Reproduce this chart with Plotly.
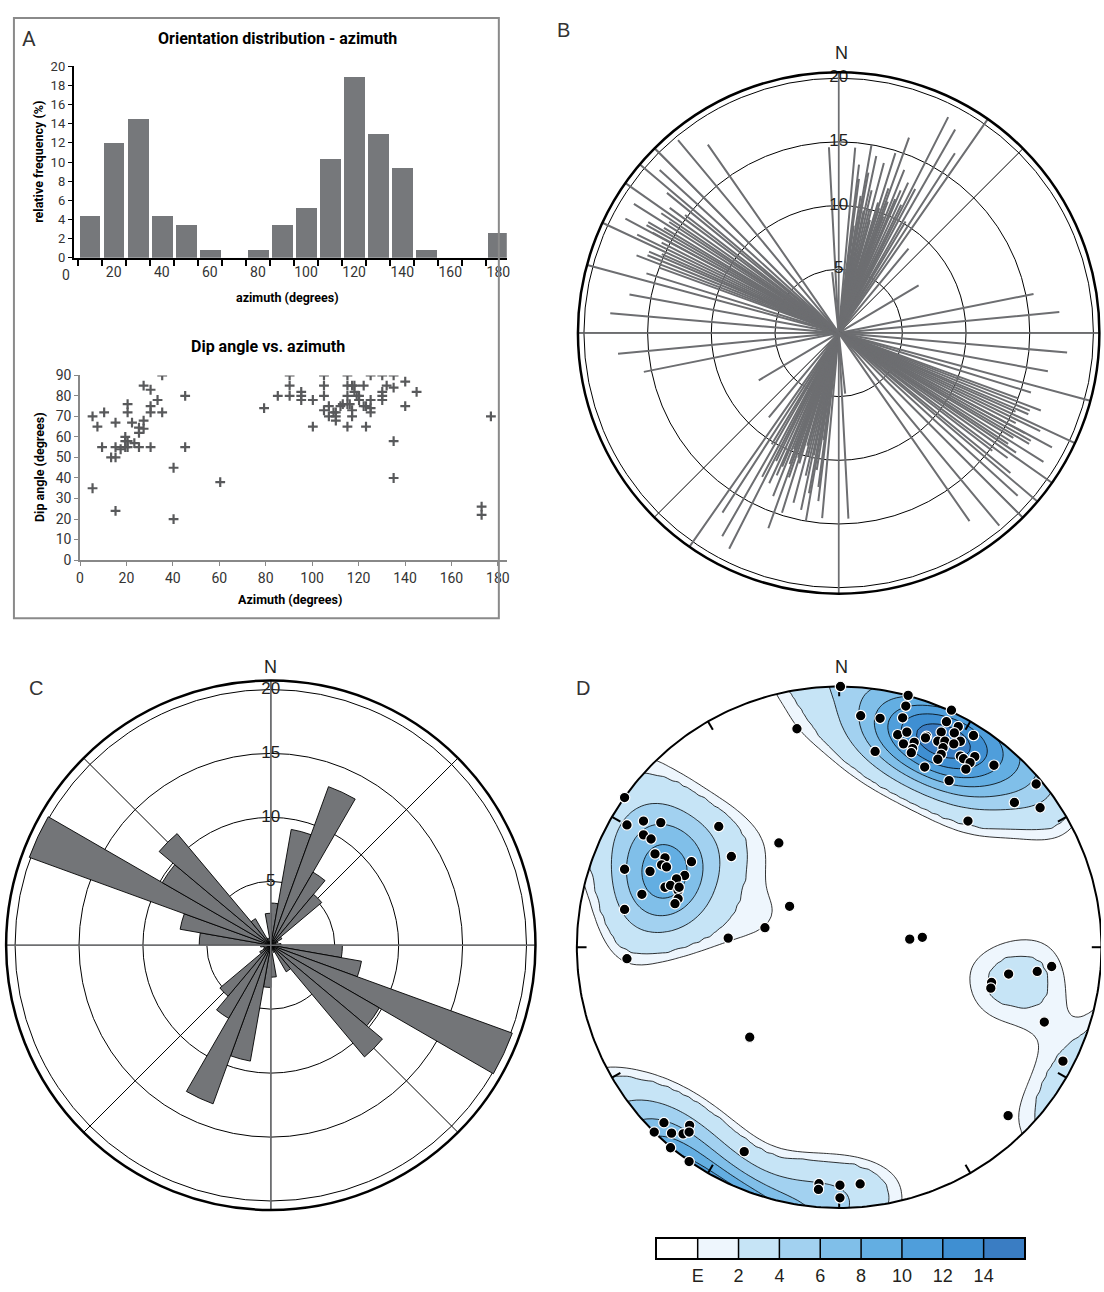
import numpy as np
import plotly.graph_objects as go

W, H = 1104, 1292
def fx(p): return p / W
def fy(p): return 1 - p / H

GRAY = '#6d6e71'
TXT = '#231f20'
FA = 'Roboto'
FB = 'Liberation Sans'

# ---------------- Panel A : histogram ----------------
hist_bin = [10, 20, 30, 40, 50, 60, 70, 80, 90, 100, 110, 120, 130, 140, 150, 160, 170, 180]
hist_freq = [4.3, 12.0, 14.5, 4.3, 3.4, 0.8, 0.0, 0.8, 3.4, 5.2, 10.3, 18.9, 12.9, 9.4, 0.8, 0.0, 0.0, 2.6]
hist_tick_vals = [20, 40, 60, 80, 100, 120, 140, 160, 180]

# ---------------- Panel A : dip vs azimuth ----------------
sc_azimuth = [5.4, 5.4, 7.5, 9.5, 10.4, 13.4, 15.3, 15.3, 15.3, 15.3, 17.5, 19.5, 19.5, 19.5, 20.5, 20.5,
              20.5, 20.5, 22.4, 23.4, 25.4, 25.4, 25.4, 27.4, 27.4, 27.4, 30.4, 30.4, 30.4, 30.4, 33.4,
              35.4, 35.4, 40.3, 40.3, 45.3, 45.3, 60.4,
              79.3, 85.2, 90.3, 90.3, 90.3, 95.3, 95.3, 95.3, 100.3, 100.3, 105.1, 105.1, 105.1, 105.1,
              107.2, 107.2, 109.2, 110.2, 110.2, 110.2, 112.2, 113.2, 115.2, 115.2, 115.2, 115.2, 115.2,
              116.2, 117.2, 117.2, 117.2, 118.2, 118.2, 119.2, 120.2, 120.2, 122.2, 122.2, 123.2, 123.2,
              125.2, 125.2, 125.2, 125.2, 130.2, 130.2, 130.2, 130.2, 132.1, 135.1, 135.1, 135.1, 135.1,
              140.1, 140.1, 145.0, 173.0, 173.0, 177.0]
sc_dip = [70, 35, 65, 55, 72, 50, 50, 67, 55, 24, 54, 60, 58, 55, 76, 72,
          58, 55, 67, 57, 64.5, 62, 55, 85, 68, 64, 83, 75, 72, 55, 78,
          90, 72, 45, 20, 80, 55, 38,
          74, 80, 90, 85, 80, 82, 80, 78, 78, 65, 90, 85, 80, 73,
          75, 70, 72, 72, 70, 68, 75, 76, 90, 85, 80, 76, 65,
          76, 85, 73, 70, 85, 82, 80, 78, 80, 85, 75, 75, 65,
          90, 78, 74, 72, 90, 82, 80, 78, 85, 90, 84, 58, 40,
          87, 75, 82, 26, 22, 70]

# ---------------- Panel B : line rose (azimuth, half length) ----------------
line_azimuth = [5.1, 6.9, 7.5, 8.0, 9.1, 9.9, 10.5, 11.5, 12.0, 13.0, 14.0, 14.9, 15.5, 16.8, 17.5, 18.0,
                19.0, 19.8, 20.5, 21.0, 21.9, 22.9, 23.5, 24.8, 26.0, 26.9, 28.0, 29.8, 31.0, 32.9, 34.9,
                39.6, 59.3, 78.7, 84.6, 173.9, 177.0,
                94.9, 100.4, 105.1, 107.2, 110.0, 111.0, 112.1, 113.2, 114.0, 115.0, 116.0, 117.0,
                118.2, 118.3, 119.3, 120.2, 121.0, 122.2, 123.2, 124.0, 125.1, 126.5, 127.5, 129.2,
                130.3, 132.3, 135.1, 140.2, 145.2]
line_length = [14.6, 13.3, 12.2, 8.5, 10.9, 15.0, 12.8, 9.8, 14.2, 11.5, 10.0, 13.8, 9.2, 10.7, 14.8, 10.3,
               12.0, 16.3, 11.0, 9.8, 13.8, 11.4, 12.2, 13.0, 11.2, 19.0, 12.8, 18.4, 10.2, 16.8, 20.7,
               8.6, 7.3, 15.6, 17.4, 4.8, 14.6,
               18.0, 16.7, 20.6, 15.8, 15.0, 17.0, 16.2, 16.2, 15.2, 20.7, 17.6, 15.6,
               19.0, 16.6, 17.3, 17.3, 16.0, 19.0, 15.9, 16.8, 20.7, 16.5, 15.2, 17.4,
               20.7, 19.0, 20.6, 19.7, 18.0]

# ---------------- Panel C : rose diagram (10 degree bins, axial) ----------------
rose_bin_start = [0, 10, 20, 30, 40, 50, 60, 70, 80, 90, 100, 110, 120, 130, 140, 150, 160, 170]
rose_freq = [3.3, 9.2, 13.2, 6.6, 5.2, 1.0, 0.6, 0.0, 0.8, 5.6, 7.2, 20.1, 9.8, 11.4, 2.4, 0.6, 0.0, 2.5]
ring_vals = [5, 10, 15, 20]

# ---------------- Panel D : poles, equal-area net coordinates (unit radius) ----------------
pole_east = [0.005, 0.263, 0.254, 0.082, 0.156, 0.242, 0.428, 0.409, 0.454, 0.512, 0.223, 0.258, 0.333,
             0.389, 0.439, 0.462, 0.376, 0.403, 0.437, 0.245, 0.286, 0.280, 0.275, 0.329, 0.396, 0.389,
             0.376, 0.462, 0.474, 0.517, 0.499, 0.483, 0.590, 0.137, 0.326, 0.419, 0.751, 0.668, 0.766,
             0.491,
             -0.161, -0.230, -0.189, -0.283, -0.423, 0.269, 0.317, -0.809,
             -0.818, -0.809, -0.746, -0.680, -0.459, -0.746, -0.717, -0.702, -0.664, -0.677, -0.658,
             -0.563, -0.411, -0.818, -0.721, -0.589, -0.620, -0.664, -0.643, -0.614, -0.610, -0.752,
             -0.614, -0.626, -0.818,
             0.581, 0.578, 0.646, 0.755, 0.810, 0.782, 0.853, 0.644, -0.341, -0.668, -0.705, -0.639,
             -0.595, -0.570, -0.572, -0.643, -0.572, -0.362, -0.077, -0.079, 0.003, 0.080, 0.003]
pole_north = [1.000, 0.966, 0.925, 0.888, 0.878, 0.880, 0.909, 0.865, 0.846, 0.812, 0.815, 0.825, 0.809,
              0.825, 0.822, 0.790, 0.790, 0.790, 0.780, 0.780, 0.786, 0.762, 0.746, 0.803, 0.765, 0.740,
              0.721, 0.733, 0.723, 0.731, 0.708, 0.683, 0.698, 0.751, 0.691, 0.639, 0.626, 0.555, 0.535,
              0.484,
              0.838, 0.400, 0.157, 0.075, 0.035, 0.031, 0.038, -0.044,
              0.574, 0.469, 0.484, 0.478, 0.463, 0.431, 0.415, 0.358, 0.343, 0.316, 0.308,
              0.328, 0.348, 0.299, 0.291, 0.275, 0.262, 0.230, 0.237, 0.218, 0.230, 0.203,
              0.186, 0.167, 0.145,
              -0.135, -0.157, -0.103, -0.093, -0.074, -0.287, -0.437, -0.646, -0.345, -0.673, -0.709, -0.713,
              -0.716, -0.683, -0.709, -0.769, -0.822, -0.784, -0.907, -0.929, -0.913, -0.908, -0.961]
density_levels = [1.5, 2, 4, 6, 8, 10, 12, 14]     # first level is the 'E' contour
density_labels = ['E', '2', '4', '6', '8', '10', '12', '14']
density_colors = ['#ffffff', '#eef6fd', '#c6e4f6', '#a2d1f0', '#80bfe9', '#63aee2', '#4f9edb', '#3f8fd2', '#3a7dc3']
KAPPA = 30.0
HEMI = 2.0   # density per hemisphere (axial data)

fig = go.Figure()

# ---- A histogram
fig.add_trace(go.Bar(x=hist_bin, y=hist_freq, width=8.6, marker=dict(color='#76787b', line=dict(width=0)),
                     xaxis='x', yaxis='y', showlegend=False))
# ---- A scatter
fig.add_trace(go.Scatter(x=sc_azimuth, y=sc_dip, mode='markers', xaxis='x2', yaxis='y2', showlegend=False,
                         marker=dict(symbol='cross-thin', size=7, line=dict(width=2.2, color='#58595b'), color='#58595b')))

# ---- B line rose
rB, tB = [], []
for a, L in zip(line_azimuth, line_length):
    rB += [L, 0, L, None]
    tB += [a, a, a + 180, None]
RB = 20.47
fig.add_trace(go.Scatterpolar(r=[RB, 0, RB, None, RB, 0, RB], theta=[0, 0, 180, None, 90, 90, 270],
                              mode='lines', line=dict(color=GRAY, width=1.6), subplot='polar', showlegend=False))
fig.add_trace(go.Scatterpolar(r=rB, theta=tB, mode='lines', line=dict(color=GRAY, width=2),
                              subplot='polar', showlegend=False, connectgaps=False))
fig.add_trace(go.Scatterpolar(r=ring_vals, theta=[0] * 4, mode='text', text=[str(v) for v in ring_vals],
                              textfont=dict(size=17, color=TXT, family=FB), subplot='polar', showlegend=False))

# ---- C rose
RC = 20.7
theta_c = [b + 5 for b in rose_bin_start] + [b + 185 for b in rose_bin_start]
r_c = rose_freq + rose_freq
fig.add_trace(go.Barpolar(r=r_c, theta=theta_c, width=[10] * len(r_c), subplot='polar2', showlegend=False,
                          marker=dict(color='#737578', line=dict(color='black', width=0.9))))
fig.add_trace(go.Scatterpolar(r=[RC, 0, RC, None, RC, 0, RC], theta=[0, 0, 180, None, 90, 90, 270],
                              mode='lines', line=dict(color=GRAY, width=1.6), subplot='polar2', showlegend=False))
fig.add_trace(go.Scatterpolar(r=ring_vals, theta=[0] * 4, mode='text', text=[str(v) for v in ring_vals],
                              textfont=dict(size=17, color=TXT, family=FB), subplot='polar2', showlegend=False))

# ---- D stereonet density (axial Fisher kernel on the lower hemisphere, equal-area net)
def to_vec(e, n, clip):
    e = np.asarray(e, float); n = np.asarray(n, float)
    rho = np.clip(np.hypot(e, n), 0, clip)
    th = 2 * np.arcsin(np.clip(rho / np.sqrt(2), 0, 1))
    tr = np.arctan2(e, n)
    return np.stack([np.sin(th) * np.sin(tr), np.sin(th) * np.cos(tr), -np.cos(th)], -1)

def mud(G, P, k):
    c = np.abs(G @ P.T)
    return (k * np.exp(k * (c - 1)) * (1 + np.exp(-2 * k * c)) / (1 - np.exp(-2 * k))).mean(axis=1)

gx = np.linspace(-1.01, 1.01, 103)
gy = np.linspace(-1.01, 1.01, 103)
GX, GY = np.meshgrid(gx, gy)
P = to_vec(pole_east, pole_north, 1.0)
G = to_vec(GX.ravel(), GY.ravel(), 1.5)
v = (HEMI * mud(G, P, KAPPA)).reshape(GX.shape)
e0, e1 = density_levels[0], density_levels[1]
z = np.where(v >= e1, v, e1 * (v - e0) / (e1 - e0))

fig.add_trace(go.Contour(x=gx, y=gy, z=z, xaxis='x3', yaxis='y3', showlegend=False, showscale=False,
                         contours=dict(start=0, end=14, size=2, coloring='fill', showlines=True),
                         line=dict(color='black', width=0.8),
                         colorscale=[[i / 8, c] for i, c in enumerate(density_colors)],
                         hoverinfo='skip'))
# mask outside primitive
ang = np.linspace(0, 2 * np.pi, 361)
mx = [-3, 3, 3, -3, -3, 0] + list(np.sin(ang)) + [0, -3]
my = [-3, -3, 3, 3, -3, 1] + list(np.cos(ang)) + [1, -3]
fig.add_trace(go.Scatter(x=mx, y=my, fill='toself', fillcolor='white', mode='none', xaxis='x3', yaxis='y3',
                         showlegend=False, hoverinfo='skip'))
fig.add_trace(go.Scatter(x=np.sin(ang), y=np.cos(ang), mode='lines', line=dict(color='black', width=2),
                         xaxis='x3', yaxis='y3', showlegend=False, hoverinfo='skip'))
tx, ty = [], []
for a in range(0, 360, 30):
    t = np.radians(a)
    tx += [np.sin(t), 0.963 * np.sin(t), None]
    ty += [np.cos(t), 0.963 * np.cos(t), None]
fig.add_trace(go.Scatter(x=tx, y=ty, mode='lines', line=dict(color='black', width=2), xaxis='x3', yaxis='y3',
                         showlegend=False, hoverinfo='skip'))
fig.add_trace(go.Scatter(x=pole_east, y=pole_north, mode='markers', xaxis='x3', yaxis='y3', showlegend=False,
                         marker=dict(size=10.5, color='black', line=dict(color='white', width=1.2))))

# ---- D colour key (separate axes)
nk = len(density_colors)
fig.add_trace(go.Heatmap(z=[list(range(nk))], x=list(range(nk)), y=[0], xaxis='x4', yaxis='y4', showscale=False,
                         colorscale=[[i / (nk - 1), c] for i, c in enumerate(density_colors)], zmin=0, zmax=nk - 1,
                         hoverinfo='skip'))
sx, sy = [], []
for i in range(nk - 1):
    sx += [i + 0.5, i + 0.5, None]
    sy += [-0.5, 0.5, None]
fig.add_trace(go.Scatter(x=sx, y=sy, mode='lines', line=dict(color='black', width=1.5), xaxis='x4', yaxis='y4',
                         showlegend=False, hoverinfo='skip'))

# ---------------- layout ----------------
cxD, cyD, RD = 840.5, 951, 264.0
axis_font = dict(size=14, color='#333333', family=FA)
polar_common = dict(bgcolor='white',
                    angularaxis=dict(rotation=90, direction='clockwise', tickmode='linear', tick0=0, dtick=45,
                                     showticklabels=False, ticks='', gridcolor='black', gridwidth=0.7,
                                     showline=True, linecolor='black', linewidth=2.5),
                    radialaxis=dict(tickvals=ring_vals, showticklabels=False, ticks='', gridcolor='black',
                                    gridwidth=0.7, showline=False))
polB = dict(polar_common); polB['domain'] = dict(x=[fx(576), 1.0], y=[fy(593), fy(65)])
polB['radialaxis'] = dict(polar_common['radialaxis'], range=[0, RB])
polC = dict(polar_common); polC['domain'] = dict(x=[fx(0.5), fx(536.5)], y=[fy(1217), fy(681)])
polC['radialaxis'] = dict(polar_common['radialaxis'], range=[0, RC])

fig.update_layout(
    width=W, height=H, margin=dict(l=0, r=0, t=0, b=0), paper_bgcolor='white', plot_bgcolor='white',
    bargap=0,
    xaxis=dict(domain=[fx(70), fx(506)], range=[3.3, 183.5], tickvals=hist_tick_vals, ticks='',
               showline=True, linecolor='black', linewidth=2, tickfont=axis_font, showgrid=False, zeroline=False,
               minor=dict(tickvals=list(range(5, 180, 10)), ticks='outside', ticklen=6, tickwidth=1.5, tickcolor='black')),
    yaxis=dict(domain=[fy(253), fy(59)], range=[0, 20], dtick=2, ticks='outside', ticklen=4, tickcolor='black',
               showline=True, linecolor='black', linewidth=1.5, tickfont=dict(axis_font, size=13),
               showgrid=False, zeroline=False),
    xaxis2=dict(domain=[fx(76.5), fx(506)], range=[0, 183.85], dtick=20, ticks='outside', ticklen=4,
                tickcolor='#888888', showline=True, linecolor='#888888', linewidth=1.5, tickfont=axis_font,
                showgrid=False, zeroline=False, anchor='y2'),
    yaxis2=dict(domain=[fy(559), fy(372)], range=[0, 90], dtick=10, ticks='outside', ticklen=4,
                tickcolor='#888888', showline=True, linecolor='#888888', linewidth=1.5, tickfont=axis_font,
                showgrid=False, zeroline=False, anchor='x2'),
    xaxis3=dict(domain=[fx(560), 1.0], range=[(560 - cxD) / RD, (W - cxD) / RD], visible=False, anchor='y3'),
    yaxis3=dict(domain=[fy(1226), fy(676)], range=[(cyD - 1226) / RD, (cyD - 676) / RD], visible=False, anchor='x3'),
    xaxis4=dict(domain=[fx(657), fx(1027)], range=[-0.5, nk - 0.5], anchor='y4', showline=True, mirror=True,
                linecolor='black', linewidth=1.5, ticks='', showgrid=False, zeroline=False,
                tickvals=[i + 0.5 for i in range(nk - 1)], ticktext=density_labels,
                tickfont=dict(size=18, color=TXT, family=FB)),
    yaxis4=dict(domain=[fy(1266), fy(1246)], range=[-0.5, 0.5], anchor='x4', showline=True, mirror=True,
                linecolor='black', linewidth=1.5, ticks='', showticklabels=False, showgrid=False, zeroline=False),
    polar=polB, polar2=polC,
    shapes=[dict(type='rect', xref='paper', yref='paper', x0=fx(10), x1=fx(498), y0=fy(618), y1=fy(10),
                 line=dict(color='#8a8a8a', width=2))],
)

ann = []
def A(x, y, t, size, bold=False, fam=FA, angle=0, color='black'):
    ann.append(dict(x=fx(x), y=fy(y), xref='paper', yref='paper', text=('<b>%s</b>' % t) if bold else t,
                    showarrow=False, textangle=angle, font=dict(size=size, family=fam, color=color),
                    xanchor='center', yanchor='middle'))
A(25, 31, 'A', 21, fam=FA, color='#333333')
A(275, 31, 'Orientation distribution - azimuth', 16, bold=True)
A(34, 156, 'relative frequency (%)', 12.5, bold=True, angle=-90)
A(285, 293, 'azimuth (degrees)', 12.5, bold=True)
A(62, 270, '0', 14, fam=FA, color='#333333')
A(266, 343, 'Dip angle vs. azimuth', 16, bold=True)
A(35, 465, 'Dip angle (degrees)', 12.5, bold=True, angle=-90)
A(288, 599, 'Azimuth (degrees)', 12.5, bold=True)
A(563, 22, 'B', 20, fam=FB, color='#333333')
A(842.5, 46, 'N', 18, fam=FB, color=TXT)
A(32, 689, 'C', 20, fam=FB, color='#333333')
A(268.5, 667, 'N', 18, fam=FB, color=TXT)
A(583, 689, 'D', 20, fam=FB, color='#333333')
A(843, 667, 'N', 18, fam=FB, color=TXT)
fig.update_layout(annotations=ann)

fig.write_html('out.html', config={'displayModeBar': False},
               post_script="document.body.style.margin='0px';document.body.style.overflow='hidden';"
                           "document.documentElement.style.overflow='hidden';")
